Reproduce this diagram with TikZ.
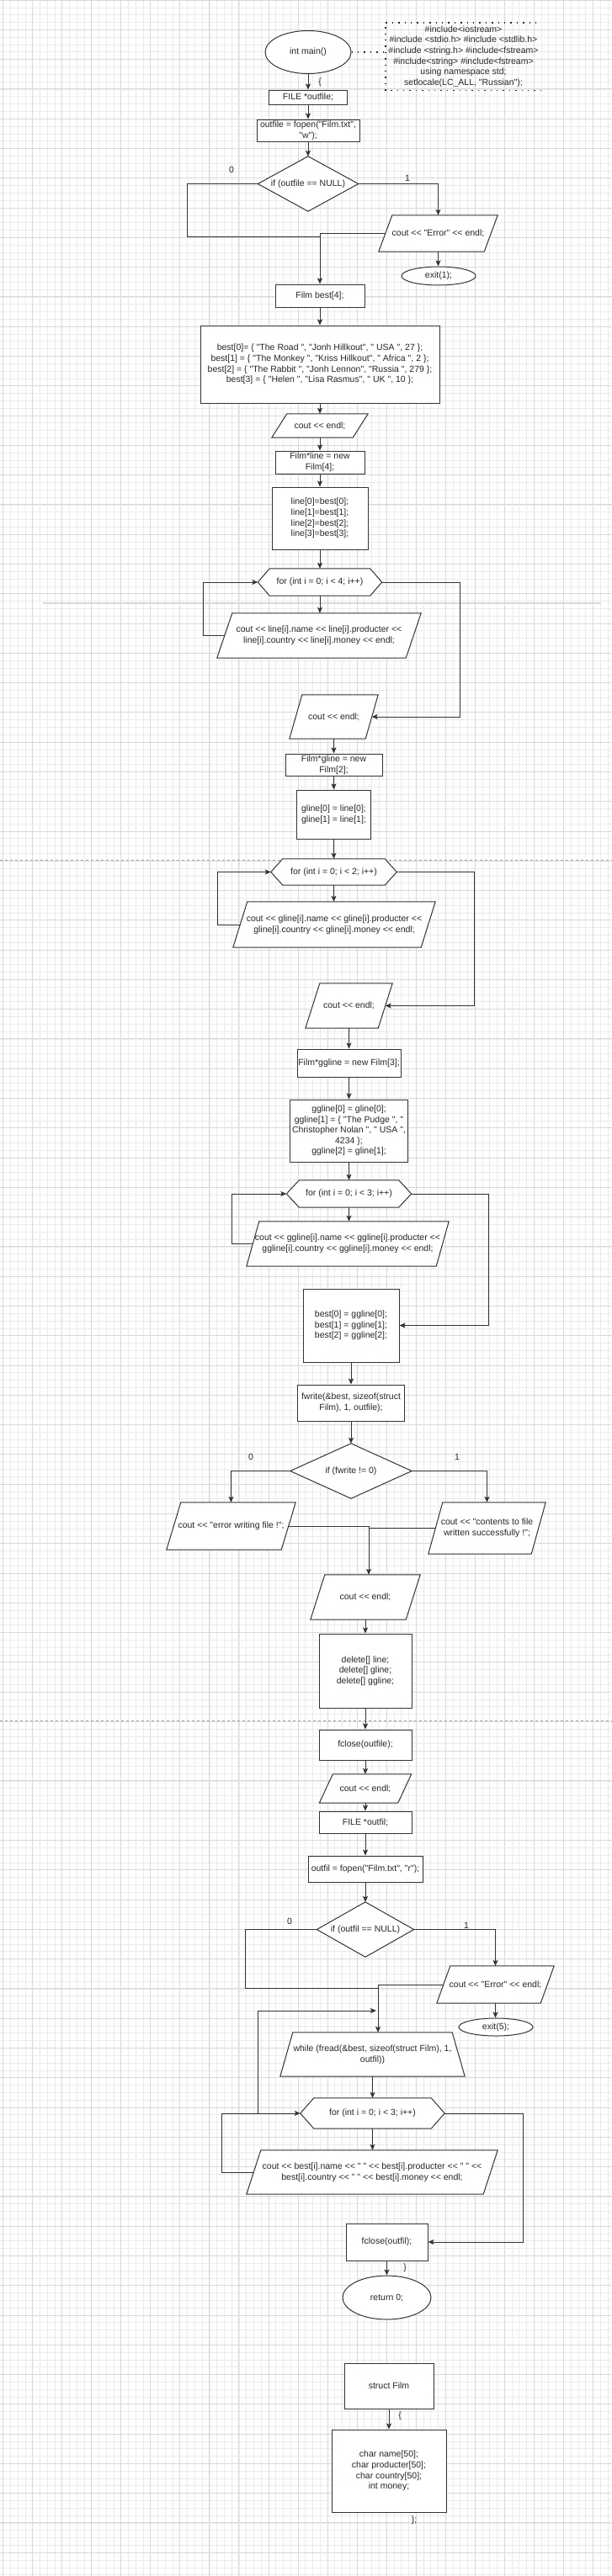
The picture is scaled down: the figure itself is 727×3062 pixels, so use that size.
\documentclass[tikz,border=0pt]{standalone}
\usetikzlibrary{arrows.meta,shapes.geometric}
\font\dfont="Liberation Sans" at 10.5pt
\newcommand\dtext{\dfont\baselineskip=12.6pt\relax}
\pgfdeclarelayer{gridl}
\pgfdeclarelayer{shpl}
\pgfsetlayers{gridl,shpl,main}
\newcommand\drawpara[2]{\begin{pgfonlayer}{shpl}\path[outl] ([xshift=#2pt]#1.north west) -- (#1.north east) -- ([xshift=-#2pt]#1.south east) -- (#1.south west) -- cycle;\end{pgfonlayer}}
\newcommand\drawhex[2]{\begin{pgfonlayer}{shpl}\path[outl] (#1.west) -- ([xshift=#2pt]#1.north west) -- ([xshift=-#2pt]#1.north east) -- (#1.east) -- ([xshift=-#2pt]#1.south east) -- ([xshift=#2pt]#1.south west) -- cycle;\end{pgfonlayer}}
\newcommand\drawdia[1]{\begin{pgfonlayer}{shpl}\path[outl] (#1.west) -- (#1.north) -- (#1.east) -- (#1.south) -- cycle;\end{pgfonlayer}}
\newcommand\drawtrap[2]{\begin{pgfonlayer}{shpl}\path[outl] ([xshift=#2pt]#1.north west) -- ([xshift=-#2pt]#1.north east) -- (#1.south east) -- (#1.south west) -- cycle;\end{pgfonlayer}}
\begin{document}
\begin{tikzpicture}[x=1pt,y=-1pt,
  every node/.style={font=\dtext, text=black!85},
  sz/.style 2 args={minimum width=#1pt, minimum height=#2pt},
  rbox/.style={draw=black!80, line width=1pt, fill=white, inner sep=0pt, align=center},
  ell/.style={ellipse, draw=black!80, line width=1pt, fill=white, inner sep=0pt, align=center},
  ptxt/.style={inner sep=0pt, align=center},
  outl/.style={draw=black!80, line width=1pt, fill=white, line join=miter},
  conn/.style={draw=black!80, line width=0.9pt},
  arr/.style={conn, -{Stealth[length=7pt,width=6pt,inset=1.5pt]}},
  lbl/.style={inner sep=0pt},
  dotl/.style={draw=black!85, line width=1.4pt, dash pattern=on 1.4pt off 6pt},
  gridmin/.style={draw=black!8, line width=0.5pt},
  gridmaj/.style={draw=black!15, line width=0.7pt}]
\useasboundingbox (0,0) rectangle (727,3062);
\begin{pgfonlayer}{gridl}
\fill[white] (0,0) rectangle (727,3062);
\foreach \i in {0,...,83} {\draw[gridmin] ({3.5+8.76*\i},0) -- ++(0,3062);}
\foreach \j in {0,...,347} {\draw[gridmin] (0,{8.82*\j}) -- ++(727,0);}
\foreach \i in {0,...,20} {\draw[gridmaj] ({3.5+35.04*\i},0) -- ++(0,3062);}
\foreach \j in {0,...,86} {\draw[gridmaj] (0,{35.28*\j}) -- ++(727,0);}
\draw[black!15, line width=1.2pt] (51,717) -- (714,717);
\draw[black!35, line width=0.8pt, dash pattern=on 3pt off 3pt] (0,1022) -- (727,1022);
\draw[black!35, line width=0.8pt, dash pattern=on 3pt off 3pt] (0,2045) -- (727,2045);
\end{pgfonlayer}

% ---------- top part ----------
\node[ell, sz={102}{51}] (main) at (366,62) {int main()};
\node[ptxt, sz={185}{80}] (incl) at (550.5,67) {\#include<iostream>\\\#include <stdio.h> \#include <stdlib.h>\\\#include <string.h> \#include<fstream>\\\#include<string> \#include<fstream>\\using namespace std;\\setlocale(LC\_ALL, "Russian");};
\draw[dotl] (incl.south east) -- (incl.south west) -- (incl.north west) -- (incl.north east);
\draw[dotl] (main.east) -- (main.east -| incl.west);
\node[rbox, sz={93}{17}] (file1) at (366,115.5) {FILE *outfile;};
\node[rbox, sz={122}{26}] (fopen1) at (366,155) {outfile = fopen("Film.txt",\\"w");};
\node[ptxt, sz={119}{65}] (dia1) at (366,218.5) {if (outfile == NULL)}; \drawdia{dia1}
\node[ptxt, sz={141}{43}] (err1) at (520.5,277.5) {cout << "Error" << endl;}; \drawpara{err1}{16}
\node[ell, sz={88}{22}] (exit1) at (521,328) {exit(1);};
\node[rbox, sz={106}{27}] (best4) at (380,351.5) {Film best[4];};
\node[rbox, sz={284}{92}] (init) at (380,433) {best[0]= \{ "The Road ", "Jonh Hillkout", " USA ", 27 \};\\best[1] = \{ "The Monkey ", "Kriss Hillkout", " Africa ", 2 \};\\best[2] = \{ "The Rabbit ", "Jonh Lennon",  "Russia ", 279 \};\\best[3] = \{ "Helen ", "Lisa Rasmus", " UK ", 10 \};};
\node[ptxt, sz={114}{28}] (cout1) at (380,506) {cout << endl;}; \drawpara{cout1}{18}
\node[rbox, sz={106}{27}] (line4) at (380,549.5) {Film*line = new\\Film[4];};
\node[rbox, sz={114}{74}] (linebox) at (380,616) {line[0]=best[0];\\line[1]=best[1];\\line[2]=best[2];\\line[3]=best[3];};
\node[ptxt, sz={147}{32}] (for1) at (380,692) {for (int i = 0; i < 4; i++)}; \drawhex{for1}{14}
\node[ptxt, sz={242}{53}] (out1) at (379,755.5) {cout << line[i].name << line[i].producter <<\\line[i].country << line[i].money << endl;}; \drawpara{out1}{18}

% ---------- second loop ----------
\node[ptxt, sz={105}{52}] (cout2) at (396.5,852) {cout << endl;}; \drawpara{cout2}{15}
\node[rbox, sz={115}{26}] (gnew) at (396.5,909) {Film*gline = new\\Film[2];};
\node[rbox, sz={88}{58}] (glinebox) at (396.5,968) {gline[0] = line[0];\\gline[1] = line[1];};
\node[ptxt, sz={149}{31}] (for2) at (396.5,1036.5) {for (int i = 0; i < 2; i++)}; \drawhex{for2}{14}
\node[ptxt, sz={240}{54}] (out2) at (397,1099) {cout << gline[i].name << gline[i].producter <<\\gline[i].country << gline[i].money << endl;}; \drawpara{out2}{17}

% ---------- third loop ----------
\node[ptxt, sz={103}{53}] (cout3) at (414.5,1195.5) {cout << endl;}; \drawpara{cout3}{17}
\node[rbox, sz={123}{33}] (ggnew) at (414.5,1263.5) {Film*ggline = new Film[3];};
\node[rbox, sz={140}{74}] (gglinebox) at (414.5,1344) {ggline[0] = gline[0];\\ggline[1] = \{ "The Pudge ", "\\Christopher Nolan ", " USA ",\\4234 \};\\ggline[2] = gline[1];};
\node[ptxt, sz={148}{32}] (for3) at (414.5,1419) {for (int i = 0; i < 3; i++)}; \drawhex{for3}{15}
\node[ptxt, sz={240}{53}] (out3) at (413,1478.5) {cout << ggline[i].name << ggline[i].producter <<\\ggline[i].country << ggline[i].money << endl;}; \drawpara{out3}{15}

% ---------- write ----------
\node[rbox, sz={114}{87}] (bestbox) at (417,1575.5) {best[0] = ggline[0];\\best[1] = ggline[1];\\best[2] = ggline[2];};
\node[rbox, sz={127}{43}] (fwrite) at (417,1667.5) {fwrite(\&best, sizeof(struct\\Film), 1, outfile);};
\node[ptxt, sz={144}{65}] (dia2) at (417,1748.5) {if (fwrite != 0)}; \drawdia{dia2}
\node[ptxt, sz={153}{56}] (errw) at (274.5,1814) {cout << "error writing file !";}; \drawpara{errw}{17}
\node[ptxt, sz={139}{61}] (succ) at (578.5,1816.5) {cout << "contents to file\\written successfully !";}; \drawpara{succ}{17}
\node[ptxt, sz={130}{53}] (cout4) at (434,1898.5) {cout << endl;}; \drawpara{cout4}{17}
\node[rbox, sz={110}{88}] (delbox) at (434,1986) {delete[] line;\\delete[] gline;\\delete[] ggline;};
\node[rbox, sz={110}{36}] (fclose1) at (434,2074) {fclose(outfile);};
\node[ptxt, sz={109}{34}] (cout5) at (434,2126) {cout << endl;}; \drawpara{cout5}{16}
\node[rbox, sz={110}{26}] (file2) at (434,2166) {FILE *outfil;};
\node[rbox, sz={136}{31}] (fopen2) at (434,2221.5) {outfil = fopen("Film.txt", "r");};
\node[ptxt, sz={115}{65}] (dia3) at (434,2293.5) {if (outfil == NULL)}; \drawdia{dia3}
\node[ptxt, sz={139}{44}] (err2) at (588.5,2359) {cout << "Error" << endl;}; \drawpara{err2}{16}
\node[ell, sz={88}{21}] (exit5) at (589,2409.5) {exit(5);};
\node[ptxt, sz={219}{52}] (whl) at (442.5,2442) {while (fread(\&best, sizeof(struct Film), 1,\\outfil))}; \drawtrap{whl}{15}
\node[ptxt, sz={171}{36}] (for4) at (442.5,2512) {for (int i = 0; i < 3; i++)}; \drawhex{for4}{16}
\node[ptxt, sz={298}{52}] (out4) at (442,2582) {cout << best[i].name << " " << best[i].producter << " " <<\\best[i].country << " " << best[i].money << endl;}; \drawpara{out4}{17}
\node[rbox, sz={97}{44}] (fclose2) at (459.5,2665) {fclose(outfil);};
\node[ell, sz={105}{52}] (ret) at (459.5,2731) {return 0;};
\node[rbox, sz={106}{54}] (structbox) at (462,2836) {struct Film};
\node[rbox, sz={136}{98}] (fields) at (462,2937) {char name[50];\\char producter[50];\\char country[50];\\int money;};

% ---------- labels ----------
\node[lbl] (b1) at (380,98) {\{};
\node[lbl] (z1) at (275,202) {0};
\node[lbl] (o1) at (484,212) {1};
\node[lbl] (z2) at (298,1732) {0};
\node[lbl] (o2) at (543,1732) {1};
\node[lbl] (z3) at (344,2284) {0};
\node[lbl] (o3) at (554,2289) {1};
\node[lbl] (b2) at (481,2696) {\}};
\node[lbl] (b3) at (475,2872) {\{};
\node[lbl] (b4) at (492,2996) {\};};

% ---------- connectors ----------
\draw[arr] (main.south) -- (main.south |- file1.north);
\draw[arr] (file1.south) -- (file1.south |- fopen1.north);
\draw[arr] (fopen1.south) -- (fopen1.south |- dia1.north);
\coordinate (j1) at (222,281);
\draw[conn] (dia1.west) -| (j1) -- (j1 -| best4.north);
\draw[arr] ([xshift=8pt]err1.west) -| (best4.north);
\draw[arr] (dia1.east) -| (err1.north);
\draw[arr] (err1.south) -- (err1.south |- exit1.north);
\draw[arr] (best4.south) -- (best4.south |- init.north);
\draw[arr] (init.south) -- (init.south |- cout1.north);
\draw[arr] (cout1.south) -- (cout1.south |- line4.north);
\draw[arr] (line4.south) -- (line4.south |- linebox.north);
\draw[arr] (linebox.south) -- (linebox.south |- for1.north);
\draw[arr] (for1.south) -- (for1.south |- out1.north);
\coordinate (l1) at (241,692);
\draw[arr] ([xshift=9pt]out1.west) -| (l1) -- (for1.west);
\coordinate (r1) at (546,692);
\draw[arr] (for1.east) -- (r1) |- ([xshift=-7.5pt]cout2.east);
\draw[arr] (cout2.south) -- (cout2.south |- gnew.north);
\draw[arr] (gnew.south) -- (gnew.south |- glinebox.north);
\draw[arr] (glinebox.south) -- (glinebox.south |- for2.north);
\draw[arr] (for2.south) -- (for2.south |- out2.north);
\coordinate (l2) at (258,1036.5);
\draw[arr] ([xshift=8.5pt]out2.west) -| (l2) -- (for2.west);
\coordinate (r2) at (563,1036.5);
\draw[arr] (for2.east) -- (r2) |- ([xshift=-8.5pt]cout3.east);
\draw[arr] (cout3.south) -- (cout3.south |- ggnew.north);
\draw[arr] (ggnew.south) -- (ggnew.south |- gglinebox.north);
\draw[arr] (gglinebox.south) -- (gglinebox.south |- for3.north);
\draw[arr] (for3.south) -- (for3.south |- out3.north);
\coordinate (l3) at (275,1419);
\draw[arr] ([xshift=7.5pt]out3.west) -| (l3) -- (for3.west);
\coordinate (r3) at (580,1419);
\draw[arr] (for3.east) -- (r3) |- (bestbox.east);
\draw[arr] (bestbox.south) -- (bestbox.south |- fwrite.north);
\draw[arr] (fwrite.south) -- (fwrite.south |- dia2.north);
\draw[arr] (dia2.west) -| (errw.north);
\draw[arr] (dia2.east) -| (succ.north);
\coordinate (j2) at (438,1814);
\draw[conn] ([xshift=-8.5pt]errw.east) -- (j2);
\draw[conn] ([xshift=8.5pt]succ.west) -- (succ.west -| j2);
\draw[arr] (j2) -- (j2 |- cout4.north);
\draw[arr] (cout4.south) -- (cout4.south |- delbox.north);
\draw[arr] (delbox.south) -- (delbox.south |- fclose1.north);
\draw[arr] (fclose1.south) -- (fclose1.south |- cout5.north);
\draw[arr] (cout5.south) -- (cout5.south |- file2.north);
\draw[arr] (file2.south) -- (file2.south |- fopen2.north);
\draw[arr] (fopen2.south) -- (fopen2.south |- dia3.north);
\coordinate (j3) at (291,2363);
\coordinate (m3) at (449,2363);
\draw[conn] (dia3.west) -| (j3) -- (m3);
\draw[arr] (dia3.east) -| (err2.north);
\draw[arr] (err2.south) -- (err2.south |- exit5.north);
\draw[arr] ([xshift=8pt]err2.west) -| (m3 |- whl.north);
\coordinate (w1) at (306,2512);
\coordinate (w2) at (447,2390);
\draw[arr] (w1) |- (w2);
\draw[arr] (whl.south) -- (whl.south |- for4.north);
\draw[arr] (for4.south) -- (for4.south |- out4.north);
\coordinate (l4) at (263,2512);
\draw[arr] ([xshift=8.5pt]out4.west) -| (l4) -- (for4.west);
\coordinate (r4) at (621,2512);
\draw[arr] (for4.east) -- (r4) |- (fclose2.east);
\draw[arr] (fclose2.south) -- (fclose2.south |- ret.north);
\draw[arr] (structbox.south) -- (structbox.south |- fields.north);
\end{tikzpicture}
\end{document}
